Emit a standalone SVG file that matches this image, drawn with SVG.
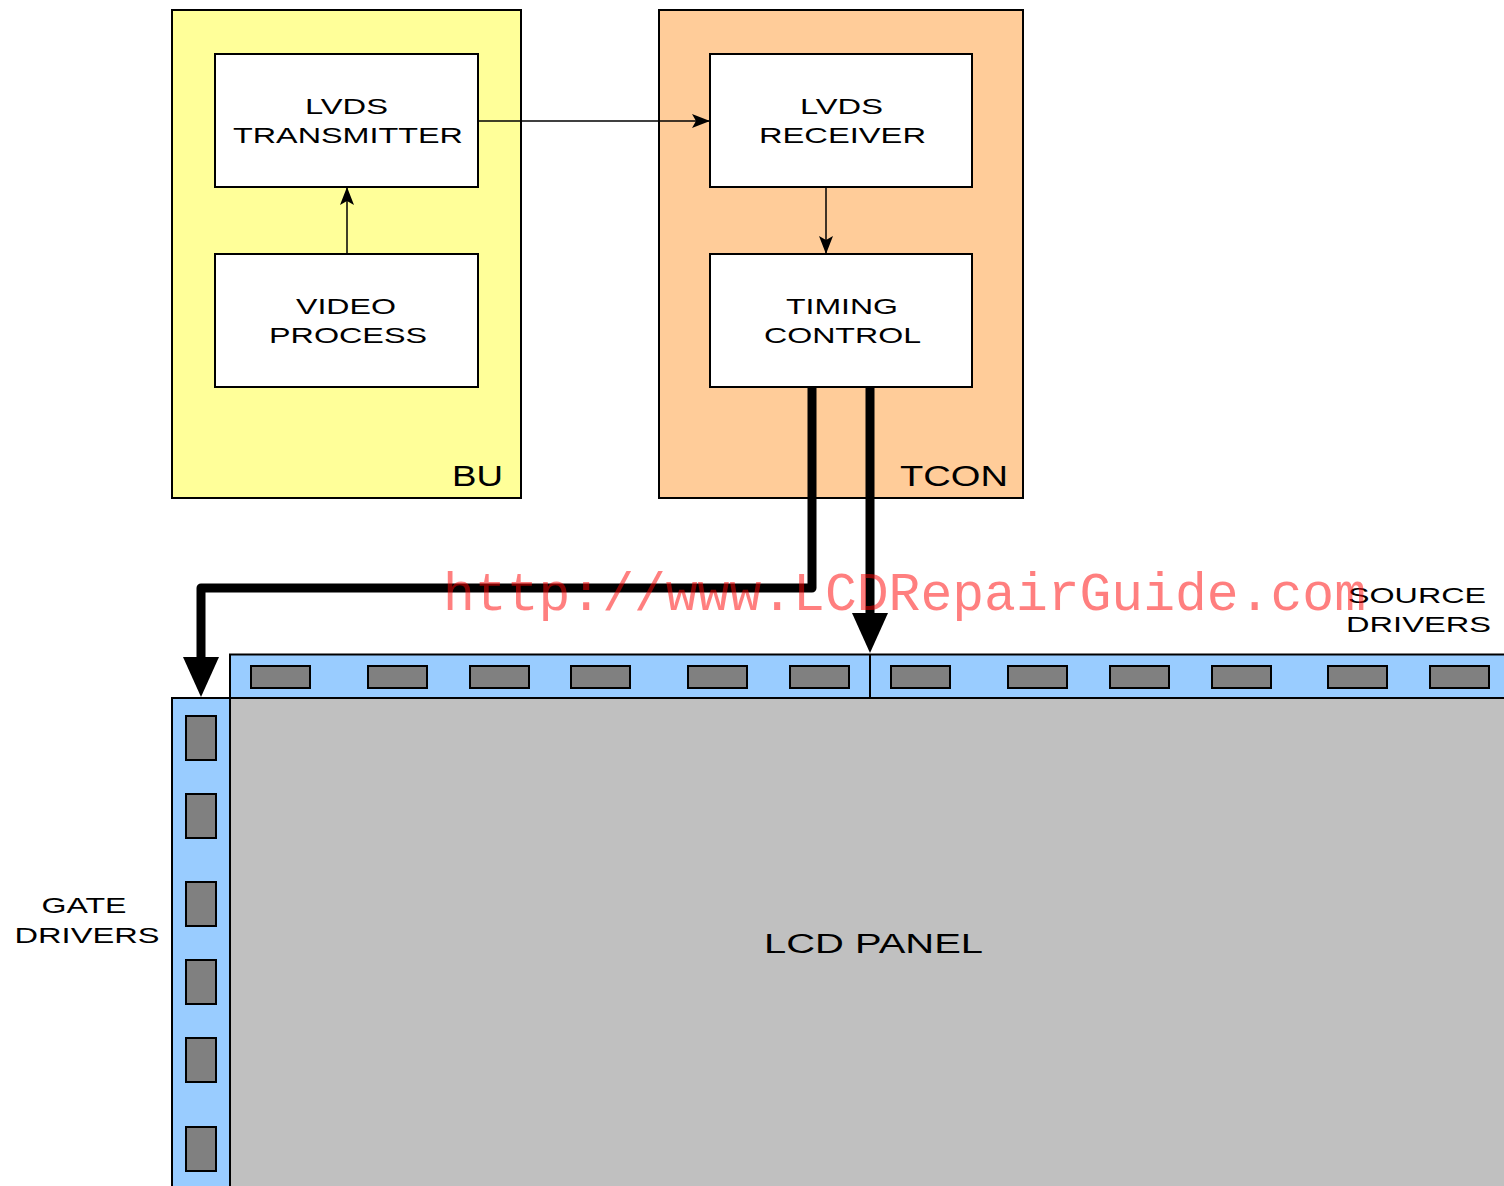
<svg xmlns="http://www.w3.org/2000/svg" width="1504" height="1186" viewBox="0 0 1504 1186">
<style>
.box{stroke:#000;stroke-width:2}
.lbl{font-family:"Liberation Sans",Arial,sans-serif;font-size:22px;fill:#000;text-anchor:middle}
.big{font-size:29px}
.thin{stroke:#000;stroke-width:1.5;fill:none}
.thick{stroke:#000;stroke-width:9;fill:none;stroke-linejoin:round}
.chip{fill:#808080;stroke:#000;stroke-width:2}
.strip{fill:#99CCFF;stroke:#000;stroke-width:2}
</style>
<defs>
<marker id="ah" markerUnits="userSpaceOnUse" markerWidth="20" markerHeight="16" refX="18" refY="7" orient="auto">
<path d="M0,0 L18,7 L0,14 L4,7 Z" fill="#000"/>
</marker>
</defs>
<rect width="1504" height="1186" fill="#fff"/>
<g id="bu">
<rect class="box" x="172" y="10" width="349" height="488" fill="#FFFF99"/>
<text class="lbl big" x="477.5" y="486" textLength="51" lengthAdjust="spacingAndGlyphs">BU</text>
</g>
<g id="tcon">
<rect class="box" x="659" y="10" width="364" height="488" fill="#FFCC99"/>
<text class="lbl big" x="954" y="486" textLength="108" lengthAdjust="spacingAndGlyphs">TCON</text>
</g>
<g id="lvds-tx">
<rect class="box" x="215" y="54" width="263" height="133" fill="#fff"/>
<text class="lbl" x="346.5" y="114" textLength="83" lengthAdjust="spacingAndGlyphs">LVDS</text>
<text class="lbl" x="348" y="143" textLength="230" lengthAdjust="spacingAndGlyphs">TRANSMITTER</text>
</g>
<g id="video">
<rect class="box" x="215" y="254" width="263" height="133" fill="#fff"/>
<text class="lbl" x="346" y="314" textLength="100" lengthAdjust="spacingAndGlyphs">VIDEO</text>
<text class="lbl" x="348" y="343" textLength="158" lengthAdjust="spacingAndGlyphs">PROCESS</text>
</g>
<g id="lvds-rx">
<rect class="box" x="710" y="54" width="262" height="133" fill="#fff"/>
<text class="lbl" x="841.5" y="114" textLength="83" lengthAdjust="spacingAndGlyphs">LVDS</text>
<text class="lbl" x="842.5" y="143" textLength="167" lengthAdjust="spacingAndGlyphs">RECEIVER</text>
</g>
<g id="timing">
<rect class="box" x="710" y="254" width="262" height="133" fill="#fff"/>
<text class="lbl" x="842" y="314" textLength="112" lengthAdjust="spacingAndGlyphs">TIMING</text>
<text class="lbl" x="842.5" y="343" textLength="157" lengthAdjust="spacingAndGlyphs">CONTROL</text>
</g>
<g id="panel">
<rect x="230" y="698" width="1280" height="500" fill="#C0C0C0" stroke="#000" stroke-width="2"/>
<text class="lbl" x="873.5" y="953" style="font-size:27px" textLength="219" lengthAdjust="spacingAndGlyphs">LCD PANEL</text>
</g>
<g id="source-drivers">
<rect class="strip" x="230" y="654.5" width="1290" height="43.5"/>
<line x1="870" y1="654" x2="870" y2="698" stroke="#000" stroke-width="2"/>
<rect class="chip" x="251" y="666" width="59" height="22"/>
<rect class="chip" x="368" y="666" width="59" height="22"/>
<rect class="chip" x="470" y="666" width="59" height="22"/>
<rect class="chip" x="571" y="666" width="59" height="22"/>
<rect class="chip" x="688" y="666" width="59" height="22"/>
<rect class="chip" x="790" y="666" width="59" height="22"/>
<rect class="chip" x="891" y="666" width="59" height="22"/>
<rect class="chip" x="1008" y="666" width="59" height="22"/>
<rect class="chip" x="1110" y="666" width="59" height="22"/>
<rect class="chip" x="1212" y="666" width="59" height="22"/>
<rect class="chip" x="1328" y="666" width="59" height="22"/>
<rect class="chip" x="1430" y="666" width="59" height="22"/>
<text class="lbl" x="1417" y="603" textLength="138" lengthAdjust="spacingAndGlyphs">SOURCE</text>
<text class="lbl" x="1418.5" y="632" textLength="145" lengthAdjust="spacingAndGlyphs">DRIVERS</text>
</g>
<g id="gate-drivers">
<rect class="strip" x="172" y="698" width="58" height="500"/>
<rect class="chip" x="186" y="716" width="30" height="44"/>
<rect class="chip" x="186" y="794" width="30" height="44"/>
<rect class="chip" x="186" y="882" width="30" height="44"/>
<rect class="chip" x="186" y="960" width="30" height="44"/>
<rect class="chip" x="186" y="1038" width="30" height="44"/>
<rect class="chip" x="186" y="1127" width="30" height="44"/>
<text class="lbl" x="84" y="913" textLength="85" lengthAdjust="spacingAndGlyphs">GATE</text>
<text class="lbl" x="87" y="943" textLength="145" lengthAdjust="spacingAndGlyphs">DRIVERS</text>
</g>
<g id="connectors">
<line class="thin" x1="478" y1="121" x2="710" y2="121" marker-end="url(#ah)"/>
<line class="thin" x1="347" y1="254" x2="347" y2="187" marker-end="url(#ah)"/>
<line class="thin" x1="826" y1="187" x2="826" y2="254" marker-end="url(#ah)"/>
<path class="thick" d="M812,387 L812,588 L201,588 L201,660"/>
<path d="M183,657 L219,657 L201,697 Z" fill="#000"/>
<path class="thick" d="M870,387 L870,616"/>
<path d="M852,613 L888,613 L870,653 Z" fill="#000"/>
</g>
<text x="443" y="610" style="font-family:'Liberation Mono','Courier New',monospace;font-size:53px" fill="#FF0000" fill-opacity="0.5" textLength="923" lengthAdjust="spacingAndGlyphs">http://www.LCDRepairGuide.com</text>
</svg>
